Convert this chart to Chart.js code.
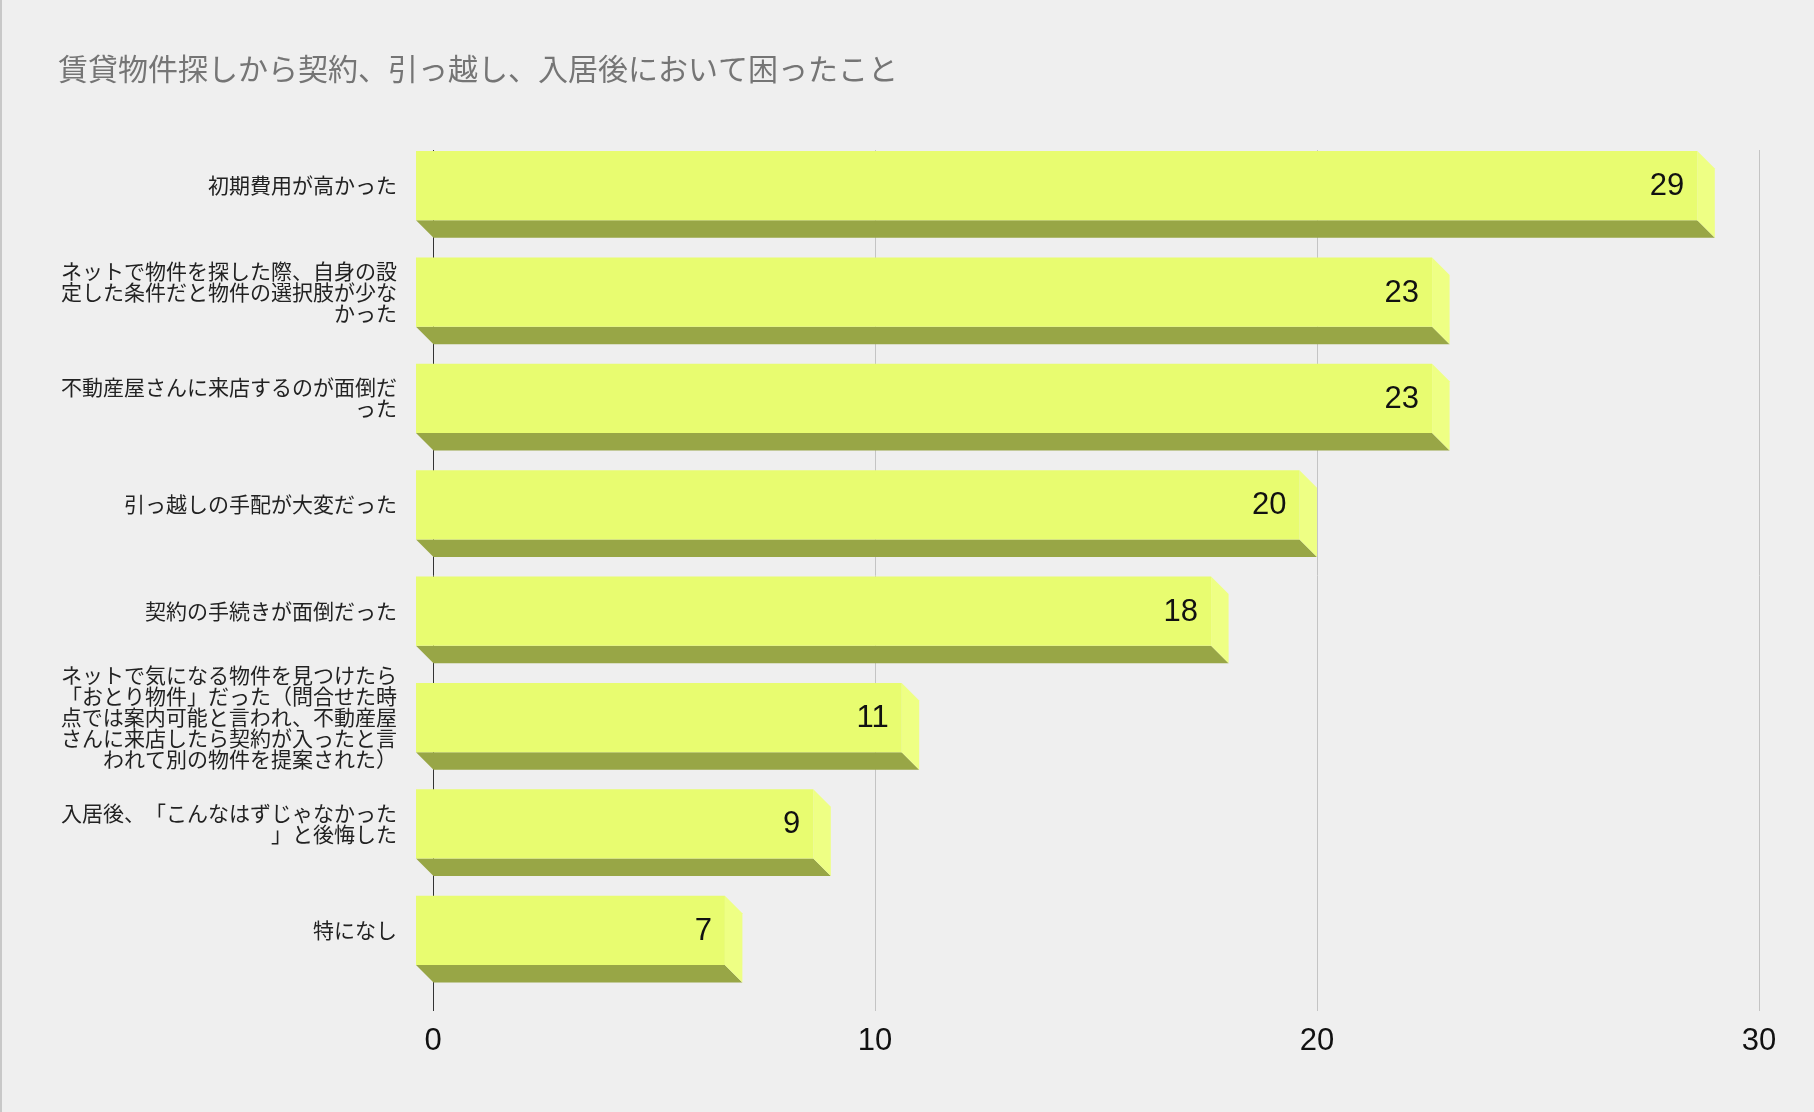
<!DOCTYPE html>
<html lang="ja">
<head>
<meta charset="utf-8">
<title>賃貸物件探しから契約、引っ越し、入居後において困ったこと</title>
<script src="https://cdn.jsdelivr.net/npm/chart.js@4.4.1/dist/chart.umd.min.js"></script>
<style>
  html, body { margin: 0; padding: 0; background: #efefef; }
  #wrap { position: relative; width: 1814px; height: 1112px; }
  #grafico { text-spacing-trim: space-all; }
  #borde { position: absolute; left: 0; top: 0; width: 2px; height: 100%; background: #c8c8c8; }
</style>
</head>
<body>
<div id="wrap">
  <canvas id="grafico" width="1814" height="1112" lang="ja"></canvas>
  <div id="borde"></div>
</div>
<script>
const titulo = "賃貸物件探しから契約、引っ越し、入居後において困ったこと";

const categorias = [
    ["初期費用が高かった"],
    ["ネットで物件を探した際、自身の設", "定した条件だと物件の選択肢が少な", "かった"],
    ["不動産屋さんに来店するのが面倒だ", "った"],
    ["引っ越しの手配が大変だった"],
    ["契約の手続きが面倒だった"],
    ["ネットで気になる物件を見つけたら", "「おとり物件」だった（問合せた時", "点では案内可能と言われ、不動産屋", "さんに来店したら契約が入ったと言", "われて別の物件を提案された）"],
    ["入居後、「こんなはずじゃなかった", "」と後悔した"],
    ["特になし"]
];

const valores = [29, 23, 23, 20, 18, 11, 9, 7];

const ejeMin = 0;
const ejeMax = 30;
const ejePaso = 10;

// profundidad del efecto 3D en px
const PROF = 17.5;
const fuenteJP = "'Noto Sans CJK JP', 'Noto Sans', sans-serif";
const fuenteNum = "'Liberation Sans', Arial, sans-serif";

const efecto3d = {
    id: 'efecto3d',
    beforeDatasetsDraw(chart) {
        const ctx = chart.ctx;
        const meta = chart.getDatasetMeta(0);
        ctx.save();
        meta.data.forEach(bar => {
            const { x, y, base, height } = bar.getProps(['x', 'y', 'base', 'height'], true);
            const arriba = y - height / 2;
            const abajo = y + height / 2;

            // cara inferior
            ctx.fillStyle = '#98a646';
            ctx.beginPath();
            ctx.moveTo(base - PROF, abajo - PROF);
            ctx.lineTo(x - PROF, abajo - PROF);
            ctx.lineTo(x, abajo);
            ctx.lineTo(base, abajo);
            ctx.closePath();
            ctx.fill();

            // cara lateral
            ctx.fillStyle = '#eeff84';
            ctx.beginPath();
            ctx.moveTo(x - PROF, arriba - PROF);
            ctx.lineTo(x, arriba);
            ctx.lineTo(x, abajo);
            ctx.lineTo(x - PROF, abajo - PROF);
            ctx.closePath();
            ctx.fill();
        });
        ctx.restore();

        // la cara frontal la dibuja Chart.js, desplazada
        ctx.save();
        ctx.translate(-PROF, -PROF);
    },
    afterDatasetsDraw(chart) {
        const ctx = chart.ctx;
        ctx.restore();

        const meta = chart.getDatasetMeta(0);
        ctx.save();
        ctx.fillStyle = '#111';
        ctx.font = `31px ${fuenteNum}`;
        ctx.textAlign = 'right';
        ctx.textBaseline = 'middle';
        meta.data.forEach((bar, i) => {
            const { x, y } = bar.getProps(['x', 'y'], true);
            ctx.fillText(String(valores[i]), x - PROF - 13, y - PROF + 1);
        });
        ctx.restore();
    }
};

new Chart(document.getElementById("grafico"), {
    type: 'bar',
    data: {
        labels: categorias,
        datasets: [{
            data: valores,
            backgroundColor: '#e8fc70',
            borderWidth: 0,
            barPercentage: 0.65,
            categoryPercentage: 1,
            clip: false
        }]
    },
    options: {
        indexAxis: 'y',
        responsive: false,
        animation: false,
        layout: {
            padding: { left: 58, right: 55, top: 0, bottom: 0 }
        },
        scales: {
            x: {
                min: ejeMin,
                max: ejeMax,
                afterFit: scale => { scale.height = 111; },
                ticks: {
                    stepSize: ejePaso,
                    color: '#111',
                    font: { family: fuenteNum, size: 31 },
                    padding: 12
                },
                grid: {
                    color: c => (c.tick && c.tick.value === 0) ? '#333' : '#c4c4c4',
                    lineWidth: 1,
                    tickLength: 10
                },
                border: { display: false }
            },
            y: {
                afterFit: scale => { scale.width = 433 - 58; },
                ticks: {
                    autoSkip: false,
                    color: '#222',
                    font: { family: fuenteJP, size: 21, lineHeight: 1.0 },
                    padding: 36,
                    labelOffset: -18
                },
                grid: { display: false, drawTicks: false },
                border: { display: false }
            }
        },
        plugins: {
            legend: { display: false },
            tooltip: { enabled: false },
            title: {
                display: true,
                text: titulo,
                align: 'start',
                color: '#757575',
                font: { family: fuenteJP, size: 30, weight: 'normal', lineHeight: 1.2 },
                padding: { top: 51, bottom: 63 }
            }
        }
    },
    plugins: [efecto3d]
});
</script>
</body>
</html>
